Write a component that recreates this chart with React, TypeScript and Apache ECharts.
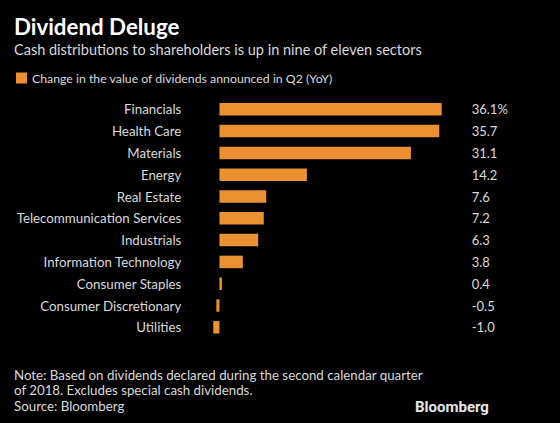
import React, { useEffect, useRef } from "react";
import * as echarts from "echarts";

const categories = [
  "Financials",
  "Health Care",
  "Materials",
  "Energy",
  "Real Estate",
  "Telecommunication Services",
  "Industrials",
  "Information Technology",
  "Consumer Staples",
  "Consumer Discretionary",
  "Utilities",
];
const values = [36.1, 35.7, 31.1, 14.2, 7.6, 7.2, 6.3, 3.8, 0.4, -0.5, -1.0];
const valueLabels = ["36.1%", "35.7", "31.1", "14.2", "7.6", "7.2", "6.3", "3.8", "0.4", "-0.5", "-1.0"];
const seriesName = "Change in the value of dividends announced in Q2 (YoY)";

const FONT = "Lato, 'Noto Sans', sans-serif";
const TXT = "#d9d9d9";
const ORANGE = "#ec9131";

export default function App() {
  const ref = useRef<HTMLDivElement>(null);
  useEffect(() => {
    if (!ref.current) return;
    const chart = echarts.init(ref.current, null, { renderer: "svg" });
    chart.setOption({
      animation: false,
      backgroundColor: "#000000",
      textStyle: { fontFamily: FONT },
      legend: {
        left: 11,
        top: 67,
        itemWidth: 11,
        itemHeight: 11,
        icon: "rect",
        itemGap: 8,
        textStyle: { color: TXT, fontSize: 12.3, fontFamily: FONT },
        data: [seriesName],
      },
      grid: { left: 213.3, width: 228.4, top: 98.4, height: 239.8 },
      xAxis: {
        type: "value",
        min: -1,
        max: 36.1,
        show: false,
      },
      yAxis: [
        {
          type: "category",
          inverse: true,
          data: categories,
          axisLine: { show: false },
          axisTick: { show: false },
          axisLabel: { color: TXT, fontSize: 13.3, fontFamily: FONT, margin: 32 },
        },
        {
          type: "category",
          inverse: true,
          position: "right",
          data: valueLabels,
          axisLine: { show: false },
          axisTick: { show: false },
          axisLabel: { color: TXT, fontSize: 13, fontFamily: FONT, margin: 30, align: "left" },
        },
      ],
      series: [
        {
          name: seriesName,
          type: "bar",
          data: values,
          barWidth: 12.5,
          itemStyle: { color: ORANGE },
        },
      ],
      graphic: [
        {
          type: "text",
          left: 14,
          top: 15,
          style: { text: "Dividend Deluge", fill: "#ffffff", fontSize: 22.3, fontWeight: "bold", fontFamily: FONT },
        },
        {
          type: "text",
          left: 14,
          top: 42,
          style: {
            text: "Cash distributions to shareholders is up in nine of eleven sectors",
            fill: TXT,
            fontSize: 14.5,
            fontFamily: FONT,
          },
        },
        {
          type: "text",
          left: 14,
          top: 367,
          style: {
            text: "Note: Based on dividends declared during the second calendar quarter\nof 2018. Excludes special cash dividends.\nSource: Bloomberg",
            fill: TXT,
            fontSize: 13.3,
            lineHeight: 15.5,
            fontFamily: FONT,
          },
        },
        {
          type: "text",
          left: 415,
          top: 399,
          style: { text: "Bloomberg", fill: "#e6e6e6", fontSize: 15, fontWeight: "bold", fontFamily: "Roboto, sans-serif" },
        },
      ],
    });
    return () => chart.dispose();
  }, []);
  return <div ref={ref} style={{ width: 560, height: 423, position: "absolute", left: 0, top: 0 }} />;
}
